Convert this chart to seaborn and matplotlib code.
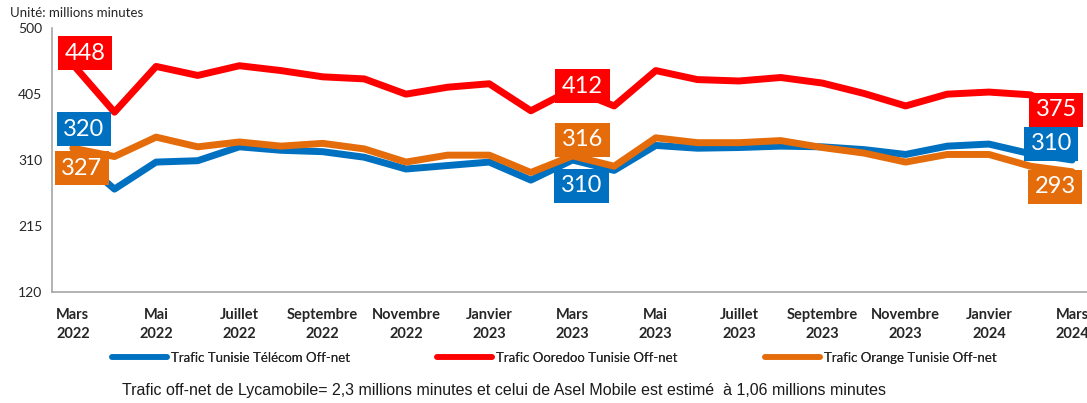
import numpy as np
import pandas as pd
import matplotlib
matplotlib.use("Agg")
import matplotlib.pyplot as plt
import seaborn as sns

months = ["Mars 2022", "Avril 2022", "Mai 2022", "Juin 2022", "Juillet 2022", "Août 2022",
          "Septembre 2022", "Octobre 2022", "Novembre 2022", "Décembre 2022", "Janvier 2023",
          "Février 2023", "Mars 2023", "Avril 2023", "Mai 2023", "Juin 2023", "Juillet 2023",
          "Août 2023", "Septembre 2023", "Octobre 2023", "Novembre 2023", "Décembre 2023",
          "Janvier 2024", "Février 2024", "Mars 2024"]

tt = [320, 268, 307, 309, 329, 324, 322, 314, 297, 302, 307, 281, 310,
      295, 331, 327, 328, 330, 329, 325, 318, 330, 333, 319, 310]
ooredoo = [448, 379, 445, 432, 446, 439, 430, 427, 405, 415, 420, 381, 412,
           388, 439, 426, 424, 429, 421, 406, 388, 405, 408, 404, 375]
orange = [327, 315, 343, 329, 336, 330, 334, 326, 307, 317, 317, 292, 316,
          301, 342, 335, 335, 338, 328, 320, 307, 318, 318, 301, 293]

names = ["Trafic Tunisie Télécom Off-net", "Trafic Ooredoo Tunisie Off-net",
         "Trafic Orange Tunisie Off-net"]
colors = ["#0070C0", "#FF0000", "#E46C0A"]

rows = []
for name, vals in zip(names, [tt, ooredoo, orange]):
    for i, v in enumerate(vals):
        rows.append({"idx": i, "mois": months[i], "serie": name, "valeur": v})
df = pd.DataFrame(rows)

sns.set_theme(style="white")
plt.rcParams["font.family"] = ["Lato", "DejaVu Sans"]

fig = plt.figure(figsize=(10.87, 4.03), dpi=100)
ax = fig.add_axes([52 / 1087, 1 - 291.7 / 403, (1093 - 52) / 1087, (291.7 - 28.3) / 403])

sns.lineplot(data=df, x="idx", y="valeur", hue="serie", hue_order=names,
             palette=colors, linewidth=5, ax=ax, legend=False)

ax.set_xlim(-0.5, len(months) - 0.5)
ax.set_ylim(120, 500)
ax.set_yticks([120, 215, 310, 405, 500])
ax.set_xticks(np.arange(0, len(months), 2))
ax.set_xticklabels([m.replace(" ", "\n") for m in months[::2]],
                   fontsize=10.5, fontweight="bold", linespacing=1.45)
ax.set_xticks(np.arange(-0.5, len(months), 1), minor=True)
ax.tick_params(axis="x", which="major", length=0, pad=12)
ax.tick_params(axis="x", which="minor", length=4, color="#A6A6A6", width=1.2, direction="out")
ax.tick_params(axis="y", length=4, color="#A6A6A6", width=1.2, labelsize=10, direction="out", pad=3)
for s in ["top", "right"]:
    ax.spines[s].set_visible(False)
for s in ["left", "bottom"]:
    ax.spines[s].set_color("#A6A6A6")
    ax.spines[s].set_linewidth(1.2)
ax.set_xlabel("")
ax.set_ylabel("")

# data labels
labels = [
    (0, tt, 0, (11, 24)), (12, tt, 0, (9, -26)), (24, tt, 0, (-21, 16)),
    (0, ooredoo, 1, (12, 11)), (12, ooredoo, 1, (10, 3)), (24, ooredoo, 1, (-16, 5)),
    (0, orange, 2, (9, -20)), (12, orange, 2, (10, 16)), (24, orange, 2, (-17, -15)),
]
for i, vals, c, off in labels:
    ax.annotate(str(vals[i]), (i, vals[i]), xytext=off, textcoords="offset pixels",
                ha="center", va="center", color="white", fontsize=17, zorder=5,
                bbox=dict(boxstyle="square,pad=0.28", fc=colors[c], ec="none"))

fig.text(10 / 1087, 1 - 13 / 403, "Unité: millions minutes", fontsize=9.5, va="center")

# legend: three evenly spaced entries
legend_x = [112, 437, 765]
for name, col, lx in zip(names, colors, legend_x):
    h = plt.Line2D([], [], color=col, linewidth=4, solid_capstyle="round")
    leg = fig.legend(handles=[h], labels=[name], loc="center left",
                     bbox_to_anchor=(lx / 1087, 1 - 358 / 403), frameon=False,
                     fontsize=9.5, handlelength=4.2, handletextpad=0.3,
                     borderpad=0, borderaxespad=0)
    fig.add_artist(leg)

fig.text(122 / 1087, 1 - 390 / 403,
         "Trafic off-net de Lycamobile= 2,3 millions minutes et celui de Asel Mobile est estimé  à 1,06 millions minutes",
         fontsize=11.5, va="center", color="#1a1a1a", family=["Liberation Sans", "DejaVu Sans"])

fig.savefig("out.png", dpi=100)
